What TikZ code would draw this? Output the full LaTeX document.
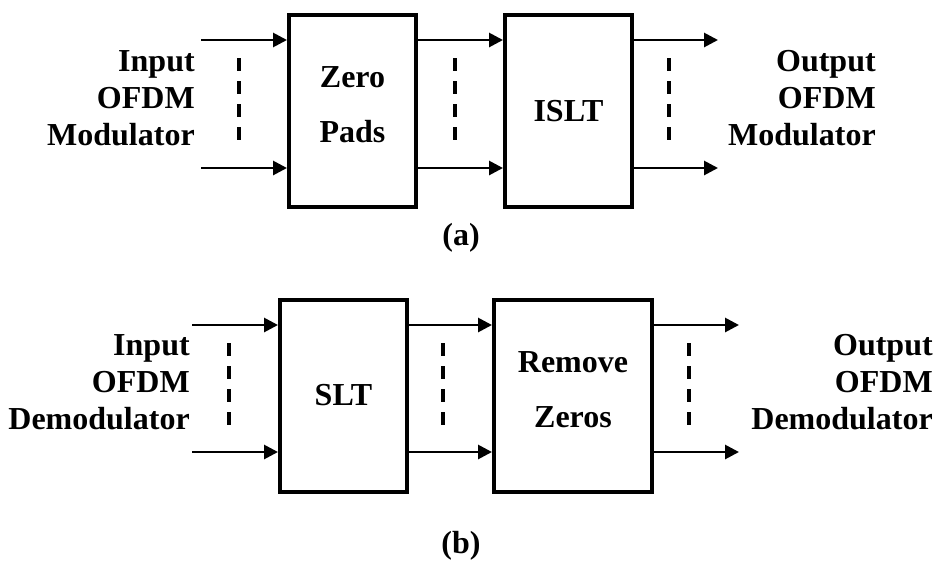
\documentclass[tikz,border=0pt]{standalone}
\usepackage{fontspec}
\setmainfont{Liberation Serif}
\usetikzlibrary{arrows.meta,positioning,calc}

\begin{document}
\begin{tikzpicture}[x=0.75pt, y=-0.75pt,
    blk/.style={draw, line width=3pt, align=center, minimum width=95.25pt, minimum height=144pt, font=\fontsize{24}{41.25}\selectfont\bfseries},
    lbl/.style={inner sep=0pt, align=right, font=\fontsize{24}{27.75}\selectfont\bfseries},
    arrow/.style={-{Triangle[length=10.5pt, width=10.5pt]}, line width=2.1pt},
    ellip/.style={line width=2.3pt, dash pattern=on 9.75pt off 7.5pt}
  ]
    \useasboundingbox (0,0) rectangle (937,561);

    % (a) modulator
    \node[blk, text depth=9pt] (zp) at (352.5,111) {Zero\\Pads};
    \node[blk] (islt) at (568.5,111) {ISLT};
    \node[lbl, anchor=east] (inA) at (195,98.4) {Input\\OFDM\\Modulator};
    \node[lbl, anchor=east] (outA) at (876,98.4) {Output\\OFDM\\Modulator};
    \node[lbl, anchor=base] (capA) at (461,245) {(a)};

    \coordinate (ina1) at (201,40);
    \coordinate (ina2) at (201,168);
    \coordinate (outa1) at (718,40);
    \coordinate (outa2) at (718,168);
    \foreach \i in {1,2} {
      \draw[arrow] (ina\i) -- (ina\i -| zp.west);
      \draw[arrow] (zp.east |- ina\i) -- (ina\i -| islt.west);
      \draw[arrow] (islt.east |- outa\i) -- (outa\i);
    }
    \foreach \x in {239,455,669}
      \draw[ellip] (\x,58) -- (\x,140);

    % (b) demodulator
    \node[blk] (slt) at (343.5,395.5) {SLT};
    \node[blk, minimum width=118.5pt, text depth=9pt] (rz) at (573,395.5) {Remove\\Zeros};
    \node[lbl, anchor=east] (inB) at (190,382) {Input\\OFDM\\Demodulator};
    \node[lbl, anchor=east] (outB) at (933,382) {Output\\OFDM\\Demodulator};
    \node[lbl, anchor=base] (capB) at (461,553) {(b)};

    \coordinate (inb1) at (192,325);
    \coordinate (inb2) at (192,452);
    \coordinate (outb1) at (739,325);
    \coordinate (outb2) at (739,452);
    \foreach \i in {1,2} {
      \draw[arrow] (inb\i) -- (inb\i -| slt.west);
      \draw[arrow] (slt.east |- inb\i) -- (inb\i -| rz.west);
      \draw[arrow] (rz.east |- outb\i) -- (outb\i);
    }
    \foreach \x in {229,443,689}
      \draw[ellip] (\x,343) -- (\x,425);
  \end{tikzpicture}
\end{document}
